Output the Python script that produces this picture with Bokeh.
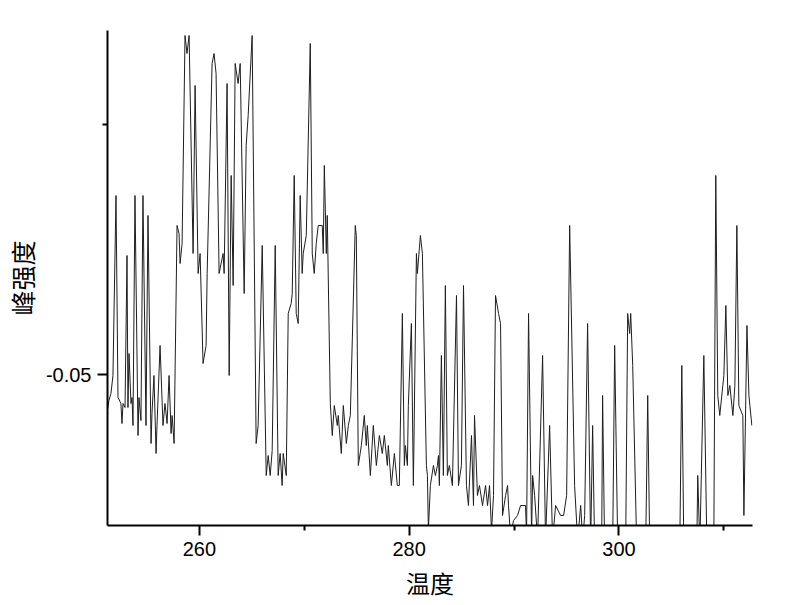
from bokeh.plotting import figure
from bokeh.models import Range1d, FixedTicker
from bokeh.embed import file_html
from bokeh.resources import INLINE

# Data (temperature vs peak intensity)
temperature = [
    251.19, 251.38, 251.57, 251.76, 252.05, 252.24, 252.52, 252.62, 252.72, 252.91,
    253.10, 253.19, 253.29, 253.48, 253.58, 253.67, 253.86, 254.15, 254.24, 254.43,
    254.62, 254.91, 255.10, 255.39, 255.48, 255.67, 255.87, 255.96, 256.25, 256.53,
    256.72, 256.92, 257.11, 257.30, 257.40, 257.59, 257.87, 258.06, 258.16, 258.35,
    258.63, 258.82, 259.02, 259.40, 259.59, 259.88, 260.07, 260.35, 260.64, 260.74,
    261.21, 261.40, 261.59, 261.88, 262.26, 262.36, 262.64, 262.84, 263.03, 263.22,
    263.41, 263.69, 263.89, 264.27, 264.46, 264.65, 265.03, 265.41, 265.60, 265.99,
    266.37, 266.56, 266.75, 266.94, 267.23, 267.51, 267.70, 267.89, 267.99, 268.28,
    268.47, 268.75, 268.85, 269.04, 269.23, 269.42, 269.61, 269.80, 269.90, 270.19,
    270.57, 270.76, 270.95, 271.14, 271.33, 271.71, 271.81, 271.91, 272.10, 272.19,
    272.48, 272.67, 272.86, 273.15, 273.24, 273.53, 273.72, 274.01, 274.20, 274.39,
    274.86, 274.96, 275.15, 275.44, 275.72, 275.91, 276.01, 276.30, 276.58, 276.87,
    277.16, 277.44, 277.63, 277.92, 278.01, 278.30, 278.59, 278.87, 279.06, 279.35,
    279.54, 279.64, 279.83, 279.92, 280.21, 280.40, 280.69, 280.78, 281.07, 281.26,
    281.64, 281.74, 281.83, 282.02, 282.31, 282.50, 282.69, 282.79, 282.88, 283.07,
    283.26, 283.45, 283.64, 283.83, 284.12, 284.51, 284.70, 284.98, 285.18, 285.46,
    285.65, 285.94, 286.13, 286.23, 286.51, 286.70, 286.99, 287.28, 287.47, 287.66,
    287.85, 288.04, 288.23, 288.52, 288.71, 288.90, 289.19, 289.38, 289.47, 289.66,
    289.95, 290.33, 290.62, 291.09, 291.19, 291.38, 291.67, 291.77, 291.96, 292.24,
    292.72, 293.00, 293.39, 293.67, 293.96, 294.44, 294.72, 295.01, 295.30, 295.77,
    296.06, 296.35, 296.54, 296.73, 297.01, 297.30, 297.49, 297.68, 298.35, 298.44,
    298.63, 299.40, 299.59, 299.88, 300.64, 300.83, 301.02, 301.12, 301.31, 301.69,
    302.55, 302.74, 302.93, 305.80, 305.99, 306.18, 307.42, 307.51, 307.71, 308.09,
    308.38, 309.04, 309.23, 309.42, 309.61, 309.90, 310.00, 310.19, 310.38, 310.57,
    310.86, 311.05, 311.24, 311.43, 311.81, 311.91, 312.20, 312.39, 312.48, 312.67,
]

peak_intensity = [
    -0.0539, -0.0526, -0.0519, -0.0501, -0.0321, -0.0523, -0.0529, -0.0549, -0.0529, -0.0533,
    -0.0381, -0.0533, -0.0479, -0.0529, -0.0523, -0.0551, -0.0321, -0.0561, -0.0523, -0.0546,
    -0.0321, -0.0551, -0.0341, -0.0569, -0.0539, -0.0501, -0.0579, -0.0551, -0.0471, -0.0551,
    -0.0529, -0.0549, -0.0501, -0.0559, -0.0541, -0.0569, -0.0351, -0.0359, -0.0389, -0.0369,
    -0.0161, -0.0179, -0.0161, -0.0379, -0.0211, -0.0399, -0.0379, -0.0489, -0.0471, -0.0399,
    -0.0189, -0.0179, -0.0199, -0.0399, -0.0379, -0.0399, -0.0209, -0.0501, -0.0301, -0.0411,
    -0.0189, -0.0209, -0.0189, -0.0419, -0.0271, -0.0241, -0.0161, -0.0569, -0.0551, -0.0371,
    -0.0601, -0.0581, -0.0601, -0.0576, -0.0371, -0.0601, -0.0579, -0.0611, -0.0579, -0.0601,
    -0.0439, -0.0429, -0.0419, -0.0301, -0.0439, -0.0449, -0.0321, -0.0399, -0.0379, -0.0361,
    -0.0169, -0.0379, -0.0399, -0.0369, -0.0351, -0.0351, -0.0379, -0.0291, -0.0379, -0.0341,
    -0.0529, -0.0561, -0.0531, -0.0551, -0.0541, -0.0579, -0.0531, -0.0569, -0.0551, -0.0541,
    -0.0351, -0.0361, -0.0591, -0.0571, -0.0541, -0.0571, -0.0551, -0.0601, -0.0551, -0.0591,
    -0.0561, -0.0579, -0.0561, -0.0591, -0.0571, -0.0611, -0.0579, -0.0611, -0.0611, -0.0439,
    -0.0591, -0.0571, -0.0591, -0.0531, -0.0449, -0.0611, -0.0379, -0.0399, -0.0361, -0.0379,
    -0.0591, -0.0601, -0.0656, -0.0611, -0.0591, -0.0601, -0.0591, -0.0581, -0.0611, -0.0481,
    -0.0601, -0.0411, -0.0601, -0.0591, -0.0611, -0.0421, -0.0611, -0.0591, -0.0411, -0.0611,
    -0.0631, -0.0561, -0.0631, -0.0541, -0.0621, -0.0611, -0.0631, -0.0611, -0.0631, -0.0611,
    -0.0656, -0.0621, -0.0421, -0.0439, -0.0449, -0.0641, -0.0621, -0.0611, -0.0631, -0.0661,
    -0.0646, -0.0641, -0.0631, -0.0631, -0.0661, -0.0439, -0.0661, -0.0601, -0.0621, -0.0666,
    -0.0481, -0.0666, -0.0551, -0.0666, -0.0631, -0.0641, -0.0641, -0.0621, -0.0351, -0.0611,
    -0.0666, -0.0631, -0.0666, -0.0641, -0.0449, -0.0671, -0.0551, -0.0671, -0.0671, -0.0521,
    -0.0671, -0.0671, -0.0471, -0.0671, -0.0671, -0.0439, -0.0459, -0.0439, -0.0491, -0.0671,
    -0.0671, -0.0521, -0.0671, -0.0671, -0.0491, -0.0671, -0.0671, -0.0601, -0.0671, -0.0481,
    -0.0671, -0.0671, -0.0301, -0.0521, -0.0541, -0.0511, -0.0501, -0.0431, -0.0521, -0.0511,
    -0.0541, -0.0511, -0.0351, -0.0531, -0.0541, -0.0641, -0.0451, -0.0521, -0.0531, -0.0551,
]

x_major_ticks = [260, 280, 300]
x_minor_ticks = [270, 290, 310]
y_major_ticks = [-0.05]
y_minor_ticks = [-0.025]
x_title = "温度"
y_title = "峰强度"

p = figure(
    frame_width=645, frame_height=495,
    x_range=Range1d(251.24, 312.73), y_range=Range1d(-0.0651, -0.0156),
    output_backend="svg", toolbar_location=None,
    min_border_left=107, min_border_right=40, min_border_top=30, min_border_bottom=70,
)
p.background_fill_color = "white"
p.border_fill_color = "white"
p.outline_line_color = None
p.xgrid.visible = False
p.ygrid.visible = False

p.line(temperature, peak_intensity, line_color="#1e1e1e", line_width=1)

p.xaxis.ticker = FixedTicker(ticks=x_major_ticks, minor_ticks=x_minor_ticks)
p.yaxis.ticker = FixedTicker(ticks=y_major_ticks, minor_ticks=y_minor_ticks)
p.yaxis.major_label_overrides = {-0.05: "-0.05"}

for ax in (p.xaxis[0], p.yaxis[0]):
    ax.axis_line_width = 2
    ax.axis_line_color = "black"
    ax.major_tick_line_width = 2
    ax.minor_tick_line_width = 2
    ax.major_tick_line_color = "black"
    ax.minor_tick_line_color = "black"
    ax.major_tick_in = 0
    ax.major_tick_out = 10
    ax.minor_tick_in = 0
    ax.minor_tick_out = 5
    ax.major_label_text_font = "Liberation Sans"
    ax.major_label_text_font_size = "20px"
    ax.major_label_text_color = "black"
    ax.axis_label_text_font = "Noto Sans CJK SC"
    ax.axis_label_text_font_style = "normal"
    ax.axis_label_text_color = "black"

p.xaxis.axis_label = x_title
p.xaxis.axis_label_text_font_size = "24px"
p.xaxis.major_label_standoff = 6
p.xaxis.axis_label_standoff = 6

p.yaxis.axis_label = y_title
p.yaxis.axis_label_text_font_size = "25px"
p.yaxis.major_label_standoff = 6
p.yaxis.axis_label_standoff = 3

open("out.html", "w").write(file_html(p, INLINE))
